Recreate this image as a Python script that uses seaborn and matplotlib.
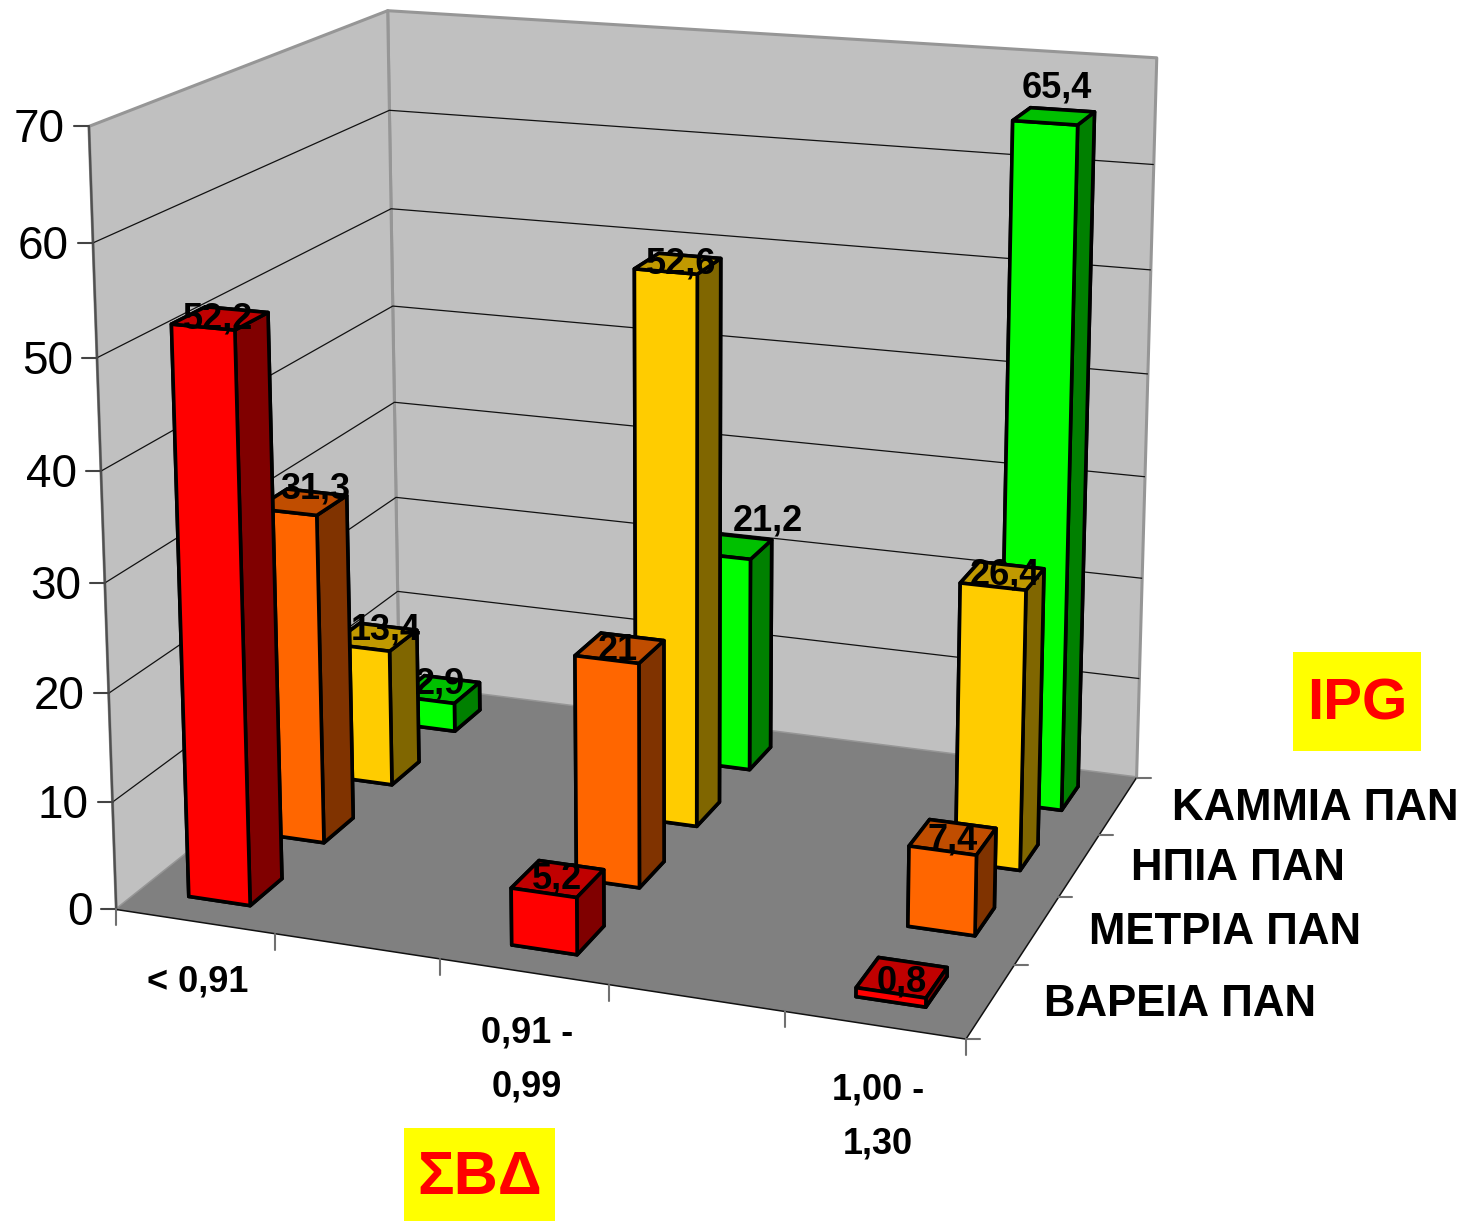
import numpy as np
import matplotlib
matplotlib.use("Agg")
import matplotlib.pyplot as plt
import seaborn as sns
from matplotlib.lines import Line2D
from matplotlib.patches import Rectangle
from matplotlib.transforms import Affine2D
from mpl_toolkits.mplot3d.art3d import Poly3DCollection, Line3DCollection
from mpl_toolkits.mplot3d import proj3d

# --- data ---
sbd_labels = ["< 0,91", "0,91 -\n0,99", "1,00 -\n1,30"]
ipg_labels = ["ΒΑΡΕΙΑ ΠΑΝ", "ΜΕΤΡΙΑ ΠΑΝ", "ΗΠΙΑ ΠΑΝ", "ΚΑΜΜΙΑ ΠΑΝ"]
bareia = [52.2, 5.2, 0.8]
metria = [31.3, 21, 7.4]
ipia = [13.4, 52.6, 26.4]
kammia = [2.9, 21.2, 65.4]
z_ticks = [0, 10, 20, 30, 40, 50, 60, 70]
front_colors = sns.color_palette(["#FF0000", "#FF6600", "#FFCC00", "#00FF00"])
side_colors = ["#800000", "#803300", "#806600", "#008000"]
top_colors = ["#C00000", "#C04D00", "#C09900", "#00C000"]

W, H = 1463, 1222
sns.set_style("white")
plt.rcParams["font.family"] = ["Liberation Sans", "DejaVu Sans"]
plt.rcParams["text.color"] = "black"

# --- camera: world (category, series, value) -> picture pixels ---
anchors = [
    ((0, 0, 0), (117, 910)), ((1, 0, 0), (275, 934)), ((2, 0, 0), (439, 958)),
    ((3, 0, 0), (610, 985)), ((4, 0, 0), (784, 1012)), ((5, 0, 0), (966, 1040)),
    ((0, 4, 0), (398, 689)), ((5, 4, 0), (1136, 777)),
    ((5, 1, 0), (1017, 965)), ((5, 2, 0), (1057, 898)), ((5, 3, 0), (1100, 834)),
    ((0, 0, 10), (113, 802)), ((0, 0, 20), (109, 692)), ((0, 0, 30), (105, 580)),
    ((0, 0, 40), (101, 470)), ((0, 0, 50), (97, 358)), ((0, 0, 60), (92, 245)),
    ((0, 0, 70), (88, 128)), ((0, 4, 70), (388, 11)), ((5, 4, 70), (1158, 58)),
    ((0, 4, 60), (389, 109)), ((0, 4, 50), (391, 208)), ((0, 4, 40), (393, 307)),
    ((0, 4, 30), (395, 402)), ((0, 4, 20), (397, 496)), ((0, 4, 10), (398, 590)),
    ((5, 4, 60), (1154, 165)), ((5, 4, 50), (1151, 271)), ((5, 4, 40), (1147, 372)),
    ((5, 4, 30), (1145, 478)), ((5, 4, 20), (1142, 577)), ((5, 4, 10), (1138, 679)),
]
A, b = [], []
for (x, y, z), (u, v) in anchors:
    v = H - v
    A.append([x, y, z, 1, 0, 0, 0, 0, -u * x, -u * y, -u * z]); b.append(u)
    A.append([0, 0, 0, 0, x, y, z, 1, -v * x, -v * y, -v * z]); b.append(v)
p = np.linalg.lstsq(np.array(A, float), np.array(b, float), rcond=None)[0]
row_w = np.r_[p[8:11], 1.0]
M = np.array([p[0:4], p[4:8], row_w - [0, 0, 0, 1.5], row_w])


def project(x, y, z):
    u, v, _ = proj3d.proj_transform(x, y, z, M)
    return float(u), H - float(v)


fig = plt.figure(figsize=(W / 100, H / 100), dpi=100, facecolor="white")
px = Affine2D().scale(1 / W, -1 / H).translate(0, 1) + fig.transFigure
ax = fig.add_axes([0, 0, 1, 1], projection="3d", computed_zorder=False)
ax.get_proj = lambda: M
ax.apply_aspect = lambda position=None: None
ax.set_axis_off()
ax.patch.set_visible(False)

n_cat, n_ser, z_max = 5, 4, 70
wall_c, floor_c, border_c = "#C0C0C0", "#808080", "#969696"


def lines3d(segments, color, lw, zorder):
    ax.add_collection3d(Line3DCollection(segments, colors=color, linewidths=lw, zorder=zorder))


ax.add_collection3d(Poly3DCollection(
    [[(0, 0, 0), (0, n_ser, 0), (0, n_ser, z_max), (0, 0, z_max)],
     [(0, n_ser, 0), (n_cat, n_ser, 0), (n_cat, n_ser, z_max), (0, n_ser, z_max)]],
    facecolor=wall_c, edgecolor=border_c, linewidth=2.2, zorder=1))
lines3d([[(0, 0, t), (0, n_ser, t), (n_cat, n_ser, t)] for t in z_ticks[1:-1]], "#111111", 0.9, 1.5)
ax.add_collection3d(Poly3DCollection(
    [[(0, 0, 0), (n_cat, 0, 0), (n_cat, n_ser, 0), (0, n_ser, 0)]],
    facecolor=floor_c, edgecolor="none", zorder=2))
lines3d([[(0, 0, 0), (0, 0, z_max)]], "#505050", 1.6, 3)
lines3d([[(0, 0, 0), (n_cat, 0, 0), (n_cat, n_ser, 0)]], "#111111", 1.1, 3)

# --- bars, painted from the back row to the front row ---
series = [bareia, metria, ipia, kammia]
cat_pos = [0, 2, 4]
bw, bd, x_off, y_off = 0.39, 0.42, 0.303, 0.31
label_nudge = {52.2: (-2, 1), 31.3: (13, -13), 13.4: (11, -7), 2.9: (1, -5),
               5.2: (-1, 0), 21: (-2, 2), 52.6: (3, 0), 21.2: (36, -25),
               0.8: (0, 4), 7.4: (0, 3), 26.4: (3, -1), 65.4: (3, -28)}
order = 10
for s in reversed(range(n_ser)):
    for c, val in zip(cat_pos, series[s]):
        fc = front_colors[s]
        ax.bar3d(c + x_off, s + y_off, 0, bw, bd, val, shade=False,
                 color=[top_colors[s], top_colors[s], fc, fc, side_colors[s], side_colors[s]],
                 edgecolor="black", linewidth=2.6, zorder=order)
        order += 1
        u, v = project(c + x_off + bw / 2, s + y_off + bd / 2, val)
        du, dv = label_nudge[val]
        fig.text(u + du, v + dv, f"{val:g}".replace(".", ","), transform=px,
                 ha="center", va="center", fontsize=26, fontweight="bold", zorder=7)

# --- ticks and tick labels ---
def tick(p0, dx, dy, color):
    fig.add_artist(Line2D([p0[0], p0[0] + dx], [p0[1], p0[1] + dy], transform=px,
                          color=color, lw=1.5, zorder=5))


for t in z_ticks:
    u, v = project(0, 0, t)
    tick((u, v), -15, 0, "#444444")
    fig.text(u - 24, v + 4, str(t), transform=px, ha="right", va="center", fontsize=33, zorder=6)
for k in range(n_cat + 1):
    tick(project(k, 0, 0), 0, 16, "#707070")
for k in range(n_ser + 1):
    tick(project(n_cat, k, 0), 14, 0, "#707070")

for lab, (u, v) in zip(sbd_labels, [(198, 982), (527, 1060), (878, 1117)]):
    fig.text(u, v, lab, transform=px, ha="center", va="center", fontsize=26,
             fontweight="bold", linespacing=1.69, zorder=6)
for lab, (u, v) in zip(ipg_labels, [(1044, 1005), (1089, 932), (1131, 869), (1172, 808)]):
    fig.text(u, v, lab, transform=px, ha="left", va="center", fontsize=31.5, fontweight="bold", zorder=6)

for (x0, y0, x1, y1), lab, fs, dy in [((1293, 652, 1421, 751), "IPG", 42, 3),
                                      ((404, 1128, 555, 1221), "ΣΒΔ", 44, 4)]:
    fig.add_artist(Rectangle((x0, y0), x1 - x0, y1 - y0, transform=px, facecolor="#FFFF00", edgecolor="none", zorder=5))
    fig.text((x0 + x1) / 2, (y0 + y1) / 2 + dy, lab, transform=px, ha="center", va="center",
             fontsize=fs, fontweight="bold", color="#FF0000", zorder=6)

ax.viewLim.intervalx = (0, W)
ax.viewLim.intervaly = (0, H)
fig.savefig("out.png", dpi=100)
